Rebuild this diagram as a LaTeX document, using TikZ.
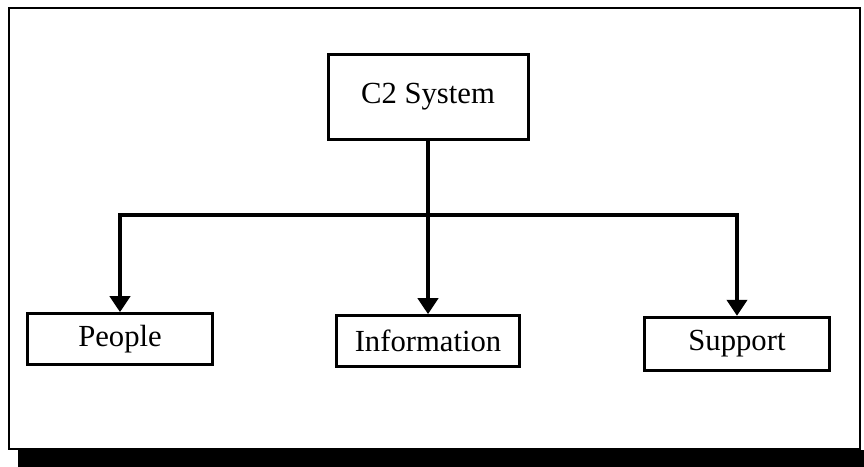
\documentclass[tikz,border=0pt]{standalone}
\usepackage{fontspec}
\setmainfont{Liberation Serif}
\usetikzlibrary{arrows.meta}

\tikzset{every picture/.style={line width=0.75pt}}
\tikzset{
  unitbox/.style={draw, line width=2.25pt, inner sep=0pt, font=\fontsize{23}{27}\selectfont},
  feed/.style={line width=3pt},
  feedarrow/.style={line width=3pt, -{Triangle[width=15pt,length=12pt]}}
}

\begin{document}
\begin{tikzpicture}[x=0.75pt,y=0.75pt,yscale=-1]
\useasboundingbox (0,0) rectangle (864,467);
%Frame and shadow
\fill [black] (18,450) rectangle (864,467);
\draw [line width=1.5pt] (9,8) rectangle (860,449);

%Boxes
\node [unitbox, minimum width=150pt, minimum height=64pt] (c2) at (428,97) {C2 System};
\node [unitbox, minimum width=139pt, minimum height=38pt] (people) at (120,339) {People};
\node [unitbox, minimum width=137pt, minimum height=38pt] (information) at (428,341) {Information};
\node [unitbox, minimum width=139pt, minimum height=40pt] (support) at (737,344) {Support};

%Connectors
\coordinate (split) at (428,215);
\draw [feed] (c2) -- (split);
\draw [feedarrow] (split) -| (people);
\draw [feedarrow] (split) -- (information);
\draw [feedarrow] (split) -| (support);
\end{tikzpicture}
\end{document}
